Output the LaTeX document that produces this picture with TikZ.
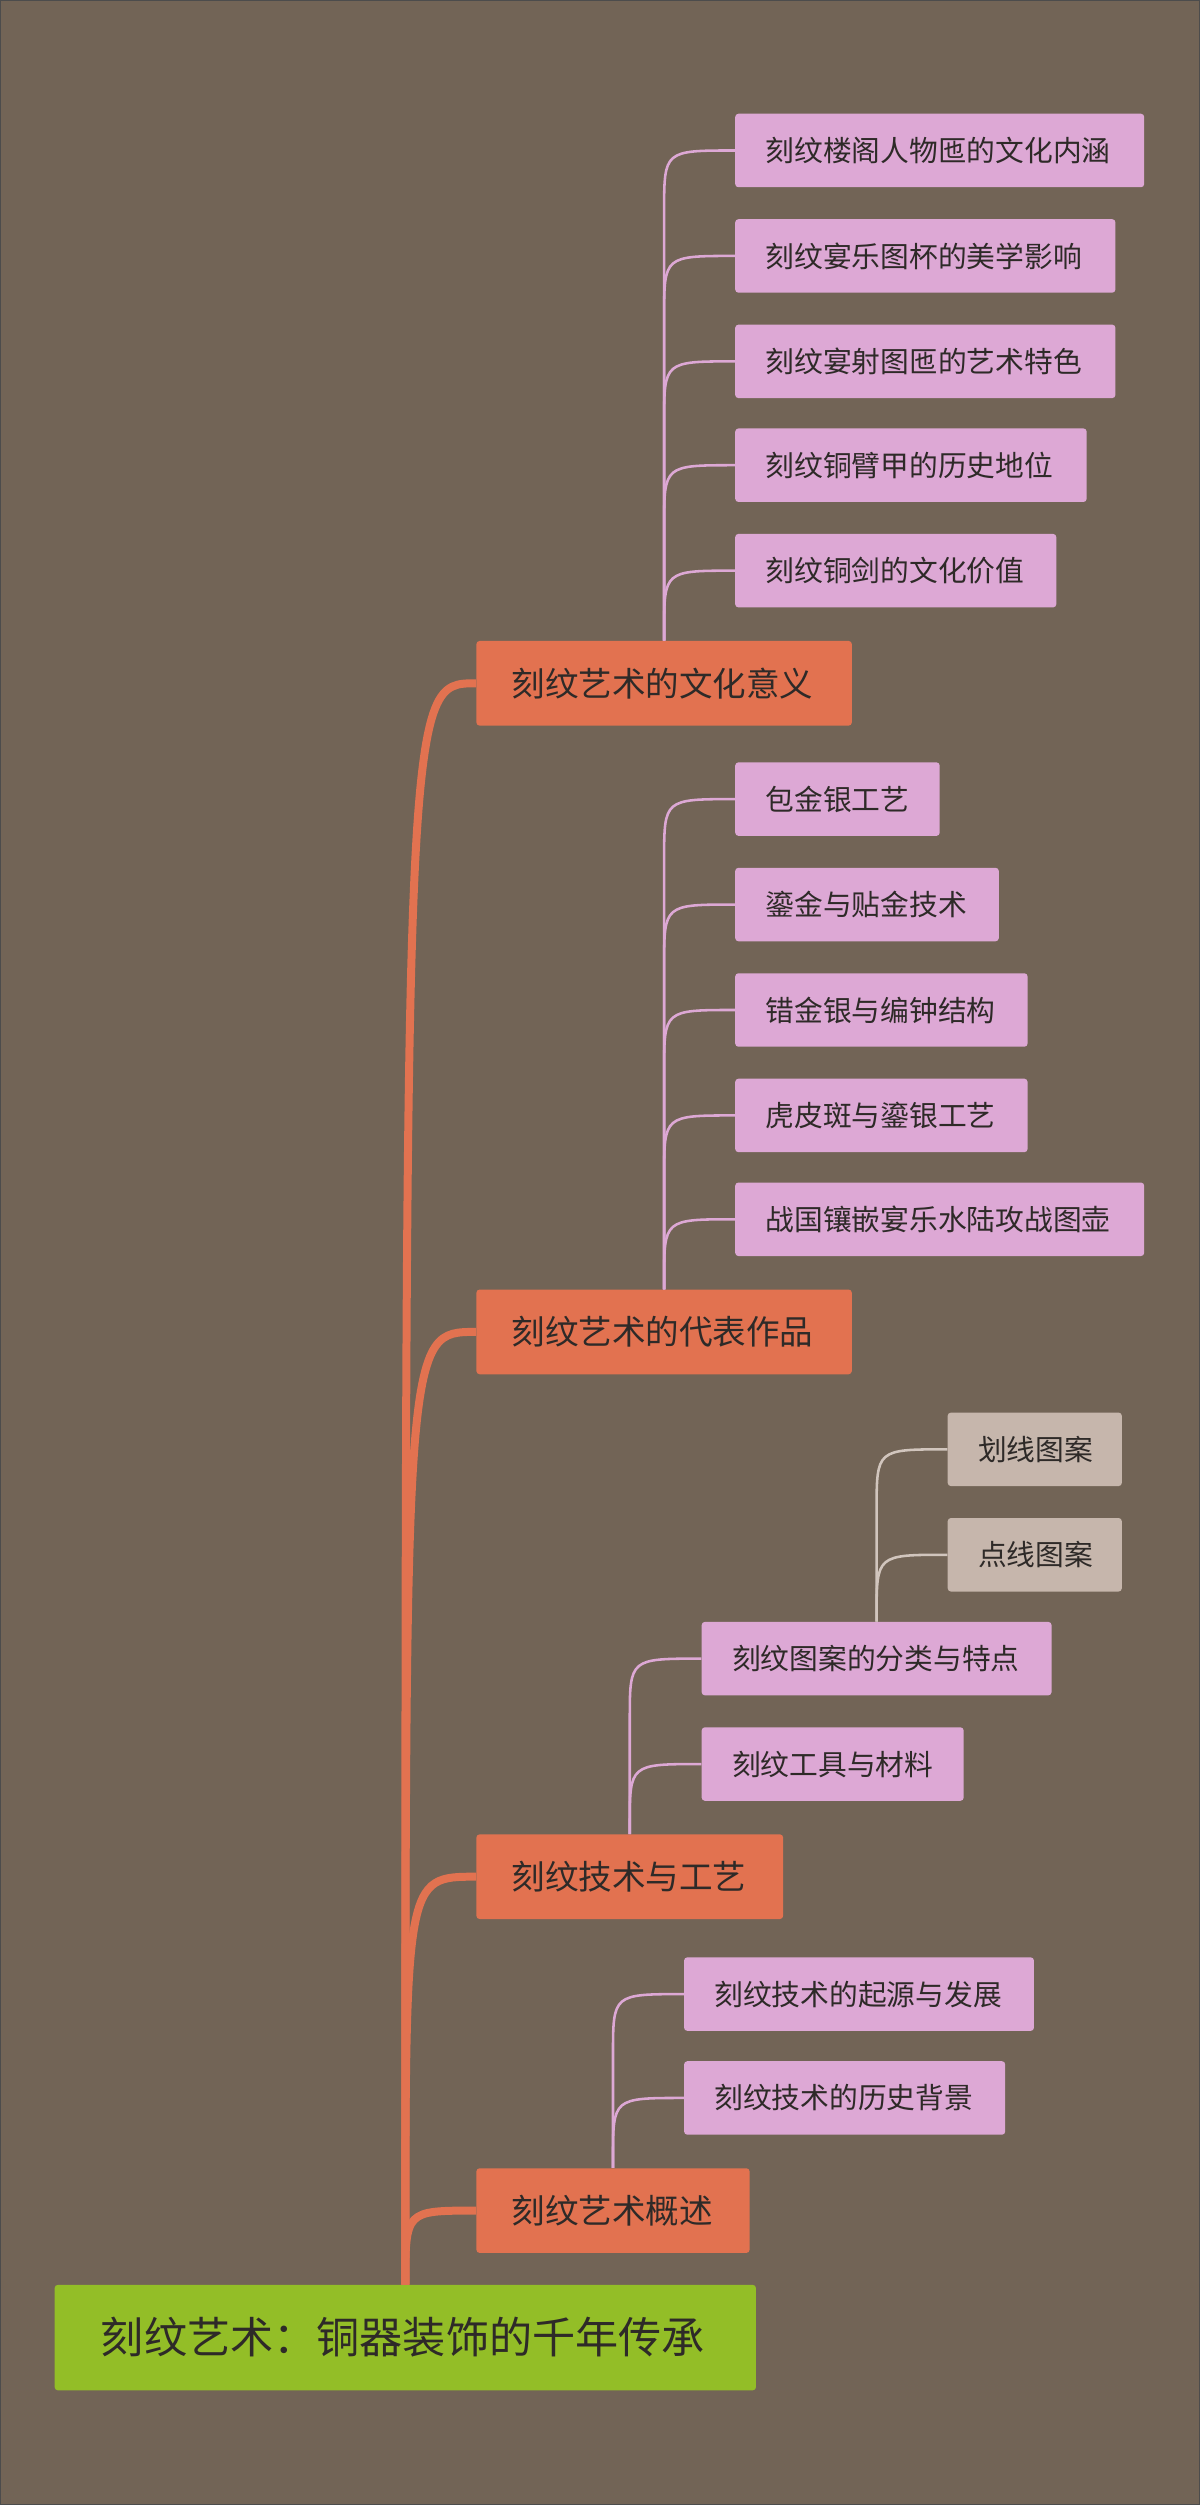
\documentclass[tikz,border=0pt]{standalone}
\usepackage{fontspec}
\newfontfamily\cjk{Noto Sans CJK SC}
\definecolor{bg}{HTML}{726456}
\definecolor{orn}{HTML}{E27250}
\definecolor{pnk}{HTML}{DDA8D5}
\definecolor{grn}{HTML}{93BE27}
\definecolor{gry}{HTML}{C6B6AC}
\definecolor{tx}{HTML}{2E2A28}
\tikzset{
 boxr/.style={rounded corners=2pt,inner sep=0pt},
 lnk/.style={line width=1.6pt,draw=pnk},
 trunk/.style={line width=5pt,draw=orn},
 lnkg/.style={line width=1.6pt,draw=gry!80!white},
}
% name, fill, x1,y1,x2,y2, fontsize, pad, text
\newcommand\bx[9]{%
 \node[boxr,fill=#2,anchor=north west,minimum width={(#5-#3)*1pt},minimum height={(#6-#4)*1pt}] (#1) at (#3,#4) {};
 \node[anchor=west,inner sep=0pt,text=tx,font=\cjk\fontsize{#7}{#7}\selectfont] at ([xshift=#8pt]#1.west) {#9};}
\newcommand\cn[4]{% style, parent, child, bend
 \path (#3.west) ++(0,#4) coordinate (tmpb);
 \draw[#1] (#2.north) -- (#2.north |- tmpb) .. controls (#2.north |- #3.west) .. (#3.west);}
\newcommand\tr[2]{%
 \draw[trunk] (#1.north) .. controls (#1.north |- #2.west) and (#1.north |- #2.west) .. (#2.west);}
\begin{document}
\begin{tikzpicture}[x=1pt,y=-1pt]
\fill[bg] (0,0) rectangle (751,1568);
\draw[black!70,line width=0.8pt] (0.4,0.4) rectangle (750.6,1567.6);
\bx{r}{grn}{34}{1430}{473}{1496}{27}{29}{刻纹艺术：铜器装饰的千年传承}
\bx{a}{orn}{298}{401}{533}{454}{21}{22}{刻纹艺术的文化意义}
\bx{b}{orn}{298}{807}{533}{860}{21}{22}{刻纹艺术的代表作品}
\bx{c}{orn}{298}{1148}{490}{1201}{21}{22}{刻纹技术与工艺}
\bx{d}{orn}{298}{1357}{469}{1410}{21}{22}{刻纹艺术概述}
\bx{a1}{pnk}{460}{71}{716}{117}{18}{19}{刻纹楼阁人物匜的文化内涵}
\bx{a2}{pnk}{460}{137}{698}{183}{18}{19}{刻纹宴乐图杯的美学影响}
\bx{a3}{pnk}{460}{203}{698}{249}{18}{19}{刻纹宴射图匜的艺术特色}
\bx{a4}{pnk}{460}{268}{680}{314}{18}{19}{刻纹铜臂甲的历史地位}
\bx{a5}{pnk}{460}{334}{661}{380}{18}{19}{刻纹铜剑的文化价值}
\bx{b1}{pnk}{460}{477}{588}{523}{18}{19}{包金银工艺}
\bx{b2}{pnk}{460}{543}{625}{589}{18}{19}{鎏金与贴金技术}
\bx{b3}{pnk}{460}{609}{643}{655}{18}{19}{错金银与编钟结构}
\bx{b4}{pnk}{460}{675}{643}{721}{18}{19}{虎皮斑与鎏银工艺}
\bx{b5}{pnk}{460}{740}{716}{786}{18}{19}{战国镶嵌宴乐水陆攻战图壶}
\bx{c1}{pnk}{439}{1015}{658}{1061}{18}{19}{刻纹图案的分类与特点}
\bx{c2}{pnk}{439}{1081}{603}{1127}{18}{19}{刻纹工具与材料}
\bx{e1}{gry}{593}{884}{702}{930}{18}{19}{划线图案}
\bx{e2}{gry}{593}{950}{702}{996}{18}{19}{点线图案}
\bx{d1}{pnk}{428}{1225}{647}{1271}{18}{19}{刻纹技术的起源与发展}
\bx{d2}{pnk}{428}{1290}{629}{1336}{18}{19}{刻纹技术的历史背景}
\foreach \p/\k in {a/a1,a/a2,a/a3,a/a4,a/a5,b/b1,b/b2,b/b3,b/b4,b/b5,c/c1,c/c2,d/d1,d/d2}{\cn{lnk}{\p}{\k}{38}}
\foreach \k in {e1,e2}{\cn{lnkg}{c1}{\k}{38}}
\foreach \k in {a,b,c,d}{\tr{r}{\k}}
\end{tikzpicture}
\end{document}
